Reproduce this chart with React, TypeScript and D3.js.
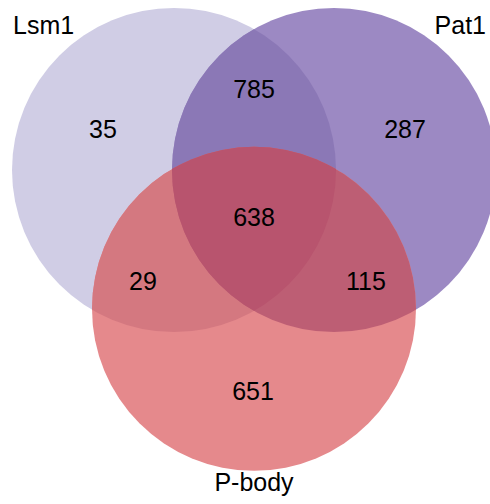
import React from "react";
import * as d3 from "d3";

const setNames = ["Lsm1", "Pat1", "P-body"];
const setColors = ["#d0cde5", "#9c89c3", "#e5898c"];
const regionNames = ["Lsm1", "Pat1", "P-body", "Lsm1&Pat1", "Lsm1&P-body", "Pat1&P-body", "Lsm1&Pat1&P-body"];
const regionCounts = [35, 287, 651, 785, 29, 115, 638];
const overlapColors = ["#8b78b6", "#d47880", "#bd5e74", "#b8546e"];

// layout (unit coordinates)
const centers: [number, number][] = [[-0.5, 0], [0.5, 0], [0, 0.8675]];
const radiusU = 1.0125;
const labelPos: [number, number][] = [
  [-0.944, -0.2], [0.944, -0.2], [-0.006, 1.438],
  [0, -0.45], [-0.694, 0.75], [0.7, 0.75], [0, 0.35],
];
const setLabelPos: [number, number, string][] = [
  [-1.506, -0.85, "start"], [1.45, -0.85, "end"], [0, 2.006, "middle"],
];

export default function App() {
  const W = 490, H = 504;
  const x = d3.scaleLinear().domain([0, 1]).range([254, 414]);
  const y = d3.scaleLinear().domain([0, 1]).range([170, 330]);
  const r = x(radiusU) - x(0);
  const circ = (i: number, fill: string, extra: any = {}) => (
    <circle cx={x(centers[i][0])} cy={y(centers[i][1])} r={r} fill={fill} {...extra} />
  );
  const font = "'Liberation Sans', Arial, Helvetica, sans-serif";
  return (
    <svg width={W} height={H} style={{ position: "absolute", left: 0, top: 0 }}>
      <defs>
        {[0, 1, 2].map((i) => (
          <clipPath id={`c${i}`} key={i}>{circ(i, "#000")}</clipPath>
        ))}
      </defs>
      {[0, 1, 2].map((i) => <g key={i}>{circ(i, setColors[i])}</g>)}
      <g clipPath="url(#c0)">{circ(1, overlapColors[0])}</g>
      <g clipPath="url(#c0)">{circ(2, overlapColors[1])}</g>
      <g clipPath="url(#c1)">{circ(2, overlapColors[2])}</g>
      <g clipPath="url(#c0)"><g clipPath="url(#c1)">{circ(2, overlapColors[3])}</g></g>
      {regionCounts.map((c, i) => (
        <text key={regionNames[i]} x={x(labelPos[i][0])} y={y(labelPos[i][1])}
          textAnchor="middle" fontFamily={font} fontSize={25} fill="#000">{c}</text>
      ))}
      {setNames.map((n, i) => (
        <text key={n} x={x(setLabelPos[i][0])} y={y(setLabelPos[i][1])}
          textAnchor={setLabelPos[i][2]} fontFamily={font} fontSize={25} fill="#000">{n}</text>
      ))}
    </svg>
  );
}
